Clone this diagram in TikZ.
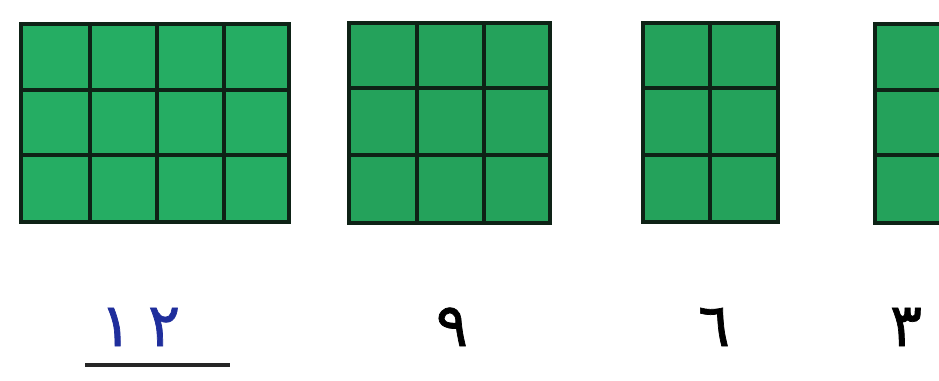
\documentclass[tikz,border=0pt]{standalone}
\usepackage{fontspec}
\newfontfamily\arabicfont[Script=Arabic,FakeBold=1.2]{DejaVu Sans}
\definecolor{gridgreenA}{HTML}{25AD63}
\definecolor{gridgreen}{HTML}{24A25B}
\definecolor{gridline}{HTML}{0E2216}
\definecolor{answerblue}{HTML}{1F2E9C}
\tikzset{
  gridstroke/.style={line width=4.5pt, draw=gridline, line join=miter},
  numlabel/.style={font=\arabicfont\fontsize{60}{64}\selectfont, text=black, inner sep=0pt, anchor=base},
}
\begin{document}
\begin{tikzpicture}[x=1pt,y=-1pt]
\useasboundingbox (0,0) rectangle (939,380);
\clip (0,0) rectangle (939,380);
\fill[white] (0,0) rectangle (939,380);
% grid 1: 4 x 3
\fill[gridgreenA] (21,24) rectangle (289,222);
\draw[gridstroke] (90,24) -- (90,222) (157,24) -- (157,222) (224,24) -- (224,222)
  (21,90) -- (289,90) (21,155) -- (289,155);
\draw[gridstroke] (21,24) rectangle (289,222);
% grid 2: 3 x 3
\fill[gridgreen] (349,23) rectangle (550,223);
\draw[gridstroke] (417,23) -- (417,223) (484,23) -- (484,223)
  (349,88) -- (550,88) (349,155) -- (550,155);
\draw[gridstroke] (349,23) rectangle (550,223);
% grid 3: 2 x 3
\fill[gridgreen] (643,23) rectangle (778,222);
\draw[gridstroke] (710,23) -- (710,222) (643,88) -- (778,88) (643,155) -- (778,155);
\draw[gridstroke] (643,23) rectangle (778,222);
% grid 4: 1 x 3 (cut off at right)
\fill[gridgreen] (875,24) rectangle (960,223);
\draw[gridstroke] (875,90) -- (960,90) (875,155) -- (960,155);
\draw[gridstroke] (875,24) rectangle (960,223);
% labels
\node[numlabel, text=answerblue] (n12) at (140,346) {١\hspace{16pt}٢};
\node[numlabel] (n9) at (452,346) {٩};
\node[numlabel] (n6) at (714,346) {٦};
\node[numlabel] (n3) at (906,346) {٣};
\coordinate (ulL) at (85,365);
\coordinate (ulR) at (230,365);
\draw[line width=4pt, draw=black!85] (ulL) -- (ulR);
\end{tikzpicture}
\end{document}
